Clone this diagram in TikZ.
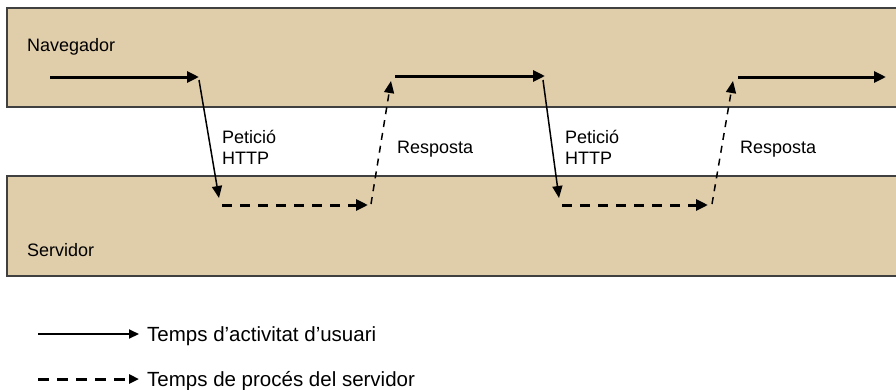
\documentclass[tikz,border=0pt]{standalone}
\usepackage{fontspec}
\setmainfont{Liberation Sans}
\usetikzlibrary{arrows.meta}
\definecolor{bandfill}{HTML}{E0CDAA}
\definecolor{bandline}{HTML}{404040}
\tikzset{
  useract/.style={line width=3pt,-{Triangle[length=12pt,width=11pt]}},
  srvact/.style={line width=3pt,dash pattern=on 10pt off 8pt,-{Triangle[length=12pt,width=11pt]}},
  req/.style={line width=1.5pt,-{Triangle[length=12pt,width=10pt]}},
  resp/.style={line width=1.5pt,dash pattern=on 7pt off 6pt,-{Triangle[length=12pt,width=10pt]}},
  lbl/.style={font=\fontsize{18}{21}\selectfont,anchor=base west,inner sep=0pt,align=left},
  leglbl/.style={font=\fontsize{20.5}{24}\selectfont,anchor=base west,inner sep=0pt},
}
\begin{document}
\begin{tikzpicture}[x=1pt,y=-1pt]
\useasboundingbox (0,0) rectangle (896,389);
% bands
\fill[bandfill] (7,8) rectangle (897,107);
\fill[bandfill] (7,176) rectangle (897,276);
\draw[bandline,line width=1.6pt] (900,8) -- (7,8) -- (7,107) -- (900,107);
\draw[bandline,line width=1.6pt] (900,176) -- (7,176) -- (7,276) -- (900,276);
% labels
\node[lbl] (nav) at (27,51) {Navegador};
\node[lbl] (srv) at (27,256) {Servidor};
\node[lbl] (req1) at (222,164) {Petició\\HTTP};
\node[lbl] (resp1) at (397,153) {Resposta};
\node[lbl] (req2) at (565,164) {Petició\\HTTP};
\node[lbl] (resp2) at (740,153) {Resposta};
% coordinates
\coordinate (a0) at (50,77);
\coordinate (a1) at (199,77);
\coordinate (b0) at (199,80);
\coordinate (b1) at (219,198);
\coordinate (c0) at (222,205);
\coordinate (c1) at (368,205);
\coordinate (d0) at (371,204);
\coordinate (d1) at (391,81);
\coordinate (e0) at (395,76);
\coordinate (e1) at (545,76);
\coordinate (f0) at (543,80);
\coordinate (f1) at (559,198);
\coordinate (g0) at (562,205);
\coordinate (g1) at (708,205);
\coordinate (h0) at (712,204);
\coordinate (h1) at (733,81);
\coordinate (i0) at (738,77);
\coordinate (i1) at (886,77);
\draw[useract] (a0) -- (a1);
\draw[req] (b0) -- (b1);
\draw[srvact] (c0) -- (c1);
\draw[resp] (d0) -- (d1);
\draw[useract] (e0) -- (e1);
\draw[req] (f0) -- (f1);
\draw[srvact] (g0) -- (g1);
\draw[resp] (h0) -- (h1);
\draw[useract] (i0) -- (i1);
% legend
\coordinate (l1a) at (38,334);
\coordinate (l1b) at (139,334);
\coordinate (l2a) at (38,379);
\coordinate (l2b) at (139,379);
\draw[line width=2pt,-{Triangle[length=10pt,width=9pt]}] (l1a) -- (l1b);
\draw[line width=3pt,dash pattern=on 11pt off 8pt,-{Triangle[length=10pt,width=9pt]}] (l2a) -- (l2b);
\node[leglbl] (leg1) at (147,341) {Temps d’activitat d’usuari};
\node[leglbl] (leg2) at (147,386) {Temps de procés del servidor};
\end{tikzpicture}
\end{document}
